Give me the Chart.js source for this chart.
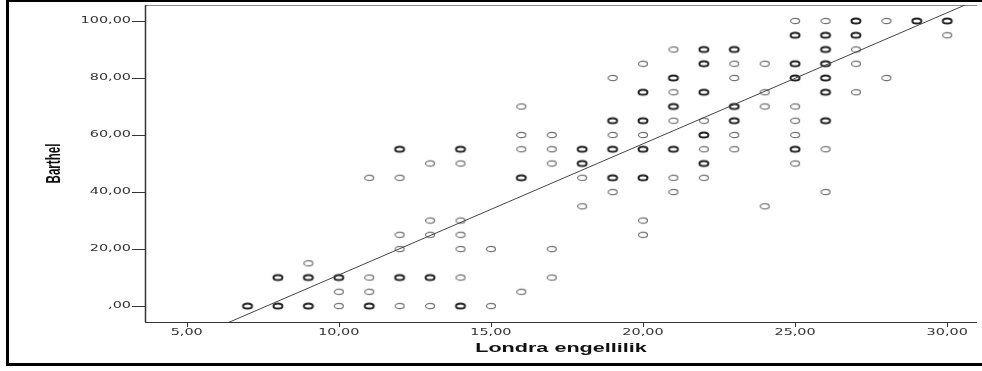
<!DOCTYPE html>
<html>
<head>
<meta charset="utf-8">
<script src="https://cdn.jsdelivr.net/npm/chart.js@4.4.0/dist/chart.umd.min.js"></script>
<style>
html,body{margin:0;padding:0;background:#fff;}
canvas{display:block;}
</style>
</head>
<body>
<canvas id="scatter" width="982" height="371"></canvas>
<script>
// Londra engellilik puanlari (x) ve her sutundaki Barthel degerleri
const londra = [7, 8, 9, 10, 11, 12, 13, 14, 15, 16, 17, 18, 19, 20, 21, 22, 23, 24, 25, 26, 27, 28, 29, 30];
// tek gozlem (ince daire)
const barthelTek = [
  [], [], [15], [5, 0], [45, 10, 5], [45, 25, 20, 0], [50, 30, 25, 0], [50, 30, 25, 20, 10],
  [20, 0], [70, 60, 55, 5], [60, 55, 50, 20, 10], [45, 35], [80, 60, 40], [85, 60, 30, 25],
  [90, 75, 65, 45, 40], [65, 55, 45], [85, 80, 60, 55], [85, 75, 70, 35], [100, 70, 65, 60, 50],
  [100, 55, 40], [90, 85, 75], [100, 80], [], [95]
];
// tekrarlanan gozlem (kalin daire)
const barthelCok = [
  [0], [10, 0], [10, 0], [10], [0], [55, 10], [10], [55, 0],
  [], [45], [], [55, 50], [65, 55, 45], [75, 65, 55, 45],
  [80, 70, 55], [90, 85, 75, 60, 50], [90, 70, 65], [], [95, 85, 80, 55],
  [95, 90, 85, 80, 75, 65], [100, 95], [], [100], [100]
];
const xTicks = [5, 10, 15, 20, 25, 30];
const yTicks = [0, 20, 40, 60, 80, 100];
const xRange = [3.63, 30.98];
const yRange = [-5.6, 105.6];
// regresyon dogrusu
const fitIntercept = -35.1;
const fitSlope = 4.6;

function toPoints(cols) {
  const pts = [];
  cols.forEach((ys, i) => ys.forEach(y => pts.push({ x: londra[i], y: y })));
  return pts;
}

function makeMarker(color, width) {
  const c = document.createElement("canvas");
  c.width = 14; c.height = 10;
  const g = c.getContext("2d");
  g.strokeStyle = color;
  g.lineWidth = width;
  g.beginPath();
  g.ellipse(7, 5, 4.5, 2.6, 0, 0, Math.PI * 2);
  g.stroke();
  return c;
}

function fmt(v) {
  return v === 0 ? ",00" : v.toFixed(2).replace(".", ",");
}

function stretchText(ctx, text, x, y, sx, align) {
  ctx.save();
  ctx.translate(x, y);
  ctx.scale(sx, 1);
  ctx.textAlign = align;
  ctx.fillText(text, 0, 0);
  ctx.restore();
}

// cerceve, eksenler ve yazilar
const spssFrame = {
  id: "spssFrame",
  beforeDatasetsDraw(chart) {
    const ctx = chart.ctx, a = chart.chartArea;
    const xs = chart.scales.x, ys = chart.scales.y;
    ctx.save();
    ctx.fillStyle = "#000";
    ctx.fillRect(6, 0, 976, 2);
    ctx.fillRect(6, 0, 3, 366);
    ctx.fillRect(6, 363, 976, 3);

    ctx.strokeStyle = "#8a8a8a";
    ctx.lineWidth = 1;
    ctx.beginPath(); ctx.moveTo(a.left, a.top + 0.5); ctx.lineTo(a.right, a.top + 0.5); ctx.stroke();

    ctx.strokeStyle = "#333";
    ctx.lineWidth = 1.5;
    ctx.beginPath(); ctx.moveTo(a.left + 0.5, a.top); ctx.lineTo(a.left + 0.5, a.bottom); ctx.stroke();
    ctx.lineWidth = 1;
    ctx.beginPath(); ctx.moveTo(a.left, a.bottom + 0.5); ctx.lineTo(a.right, a.bottom + 0.5); ctx.stroke();

    ctx.beginPath();
    yTicks.forEach(v => {
      const py = Math.round(ys.getPixelForValue(v)) + 0.5;
      ctx.moveTo(a.left - 13, py); ctx.lineTo(a.left, py);
    });
    xTicks.forEach(v => {
      const px = Math.round(xs.getPixelForValue(v)) + 0.5;
      ctx.moveTo(px, a.bottom); ctx.lineTo(px, a.bottom + 5);
    });
    ctx.stroke();
    ctx.restore();
  },
  afterDraw(chart) {
    const ctx = chart.ctx, a = chart.chartArea;
    const xs = chart.scales.x, ys = chart.scales.y;
    ctx.save();
    ctx.fillStyle = "#333";
    ctx.textBaseline = "middle";
    ctx.font = "8px 'DejaVu Sans'";
    yTicks.forEach(v => stretchText(ctx, fmt(v), a.left - 14, ys.getPixelForValue(v), 1.8, "right"));
    xTicks.forEach(v => stretchText(ctx, fmt(v), xs.getPixelForValue(v), a.bottom + 11, 1.8, "center"));

    ctx.fillStyle = "#111";
    ctx.font = "bold 12px 'Liberation Sans'";
    stretchText(ctx, "Londra engellilik", (a.left + a.right) / 2, 349, 1.8, "center");

    ctx.font = "bold 11.6px 'Liberation Sans'";
    ctx.translate(54, (a.top + a.bottom) / 2);
    ctx.scale(1.8, 1);
    ctx.rotate(-Math.PI / 2);
    ctx.textAlign = "center";
    ctx.fillText("Barthel", 0, 0);
    ctx.restore();
  }
};

new Chart(document.getElementById("scatter"), {
  type: "scatter",
  data: {
    datasets: [
      {
        label: "Regresyon",
        type: "line",
        data: [
          { x: xRange[0], y: fitIntercept + fitSlope * xRange[0] },
          { x: xRange[1], y: fitIntercept + fitSlope * xRange[1] }
        ],
        borderColor: "#444",
        borderWidth: 1,
        pointRadius: 0,
        fill: false
      },
      {
        label: "Tek",
        data: toPoints(barthelTek),
        pointStyle: makeMarker("#707070", 1.2)
      },
      {
        label: "Tekrar",
        data: toPoints(barthelCok),
        pointStyle: makeMarker("#222", 2)
      }
    ]
  },
  options: {
    responsive: false,
    animation: false,
    devicePixelRatio: 1,
    layout: { padding: { left: 145, top: 4, right: 0, bottom: 49 } },
    plugins: { legend: { display: false }, tooltip: { enabled: false } },
    scales: {
      x: { type: "linear", display: false, min: xRange[0], max: xRange[1] },
      y: { type: "linear", display: false, min: yRange[0], max: yRange[1] }
    }
  },
  plugins: [spssFrame]
});
</script>
</body>
</html>
